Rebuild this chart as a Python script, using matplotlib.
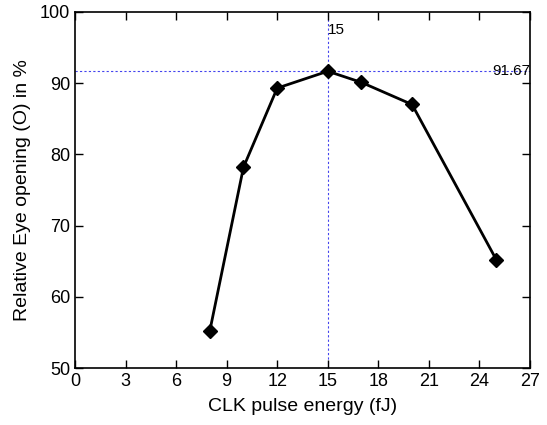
import matplotlib
matplotlib.use("Agg")
import matplotlib.pyplot as plt

# CLK pulse energy (fJ) vs relative eye opening (%)
energy = [8, 10, 12, 15, 17, 20, 25]
eye_opening = [55.2, 78.2, 89.3, 91.67, 90.1, 87.0, 65.2]
peak_x = 15
peak_y = 91.67
x_ticks = [0, 3, 6, 9, 12, 15, 18, 21, 24, 27]
y_ticks = [50, 60, 70, 80, 90, 100]

plt.rcParams['font.family'] = ['Liberation Sans', 'DejaVu Sans']

fig = plt.figure(figsize=(5.47, 4.25), dpi=100)
ax = fig.add_axes([0.137, 0.134, 0.832, 0.838])

ax.axvline(peak_x, color='#4444ee', linestyle=(0, (2, 2)), linewidth=0.8, zorder=1)
ax.axhline(peak_y, color='#4444ee', linestyle=(0, (2, 2)), linewidth=0.8, zorder=1)

ax.plot(energy, eye_opening, color='black', linewidth=2, marker='D',
        markersize=7, zorder=3)

ax.text(peak_x, 97.4, f"{peak_x}", fontsize=11, ha='left', va='center')
ax.text(27, peak_y, f"{peak_y}", fontsize=11, ha='right', va='center')

ax.set_xlim(0, 27)
ax.set_ylim(50, 100)
ax.set_xticks(x_ticks)
ax.set_yticks(y_ticks)
ax.tick_params(direction='in', top=True, right=True, length=6, labelsize=13, width=1)
for s in ax.spines.values():
    s.set_linewidth(1.2)

ax.set_xlabel("CLK pulse energy (fJ)", fontsize=14, labelpad=6)
ax.set_ylabel("Relative Eye opening (O) in %", fontsize=14, labelpad=6)

fig.savefig("out.png", dpi=100)
